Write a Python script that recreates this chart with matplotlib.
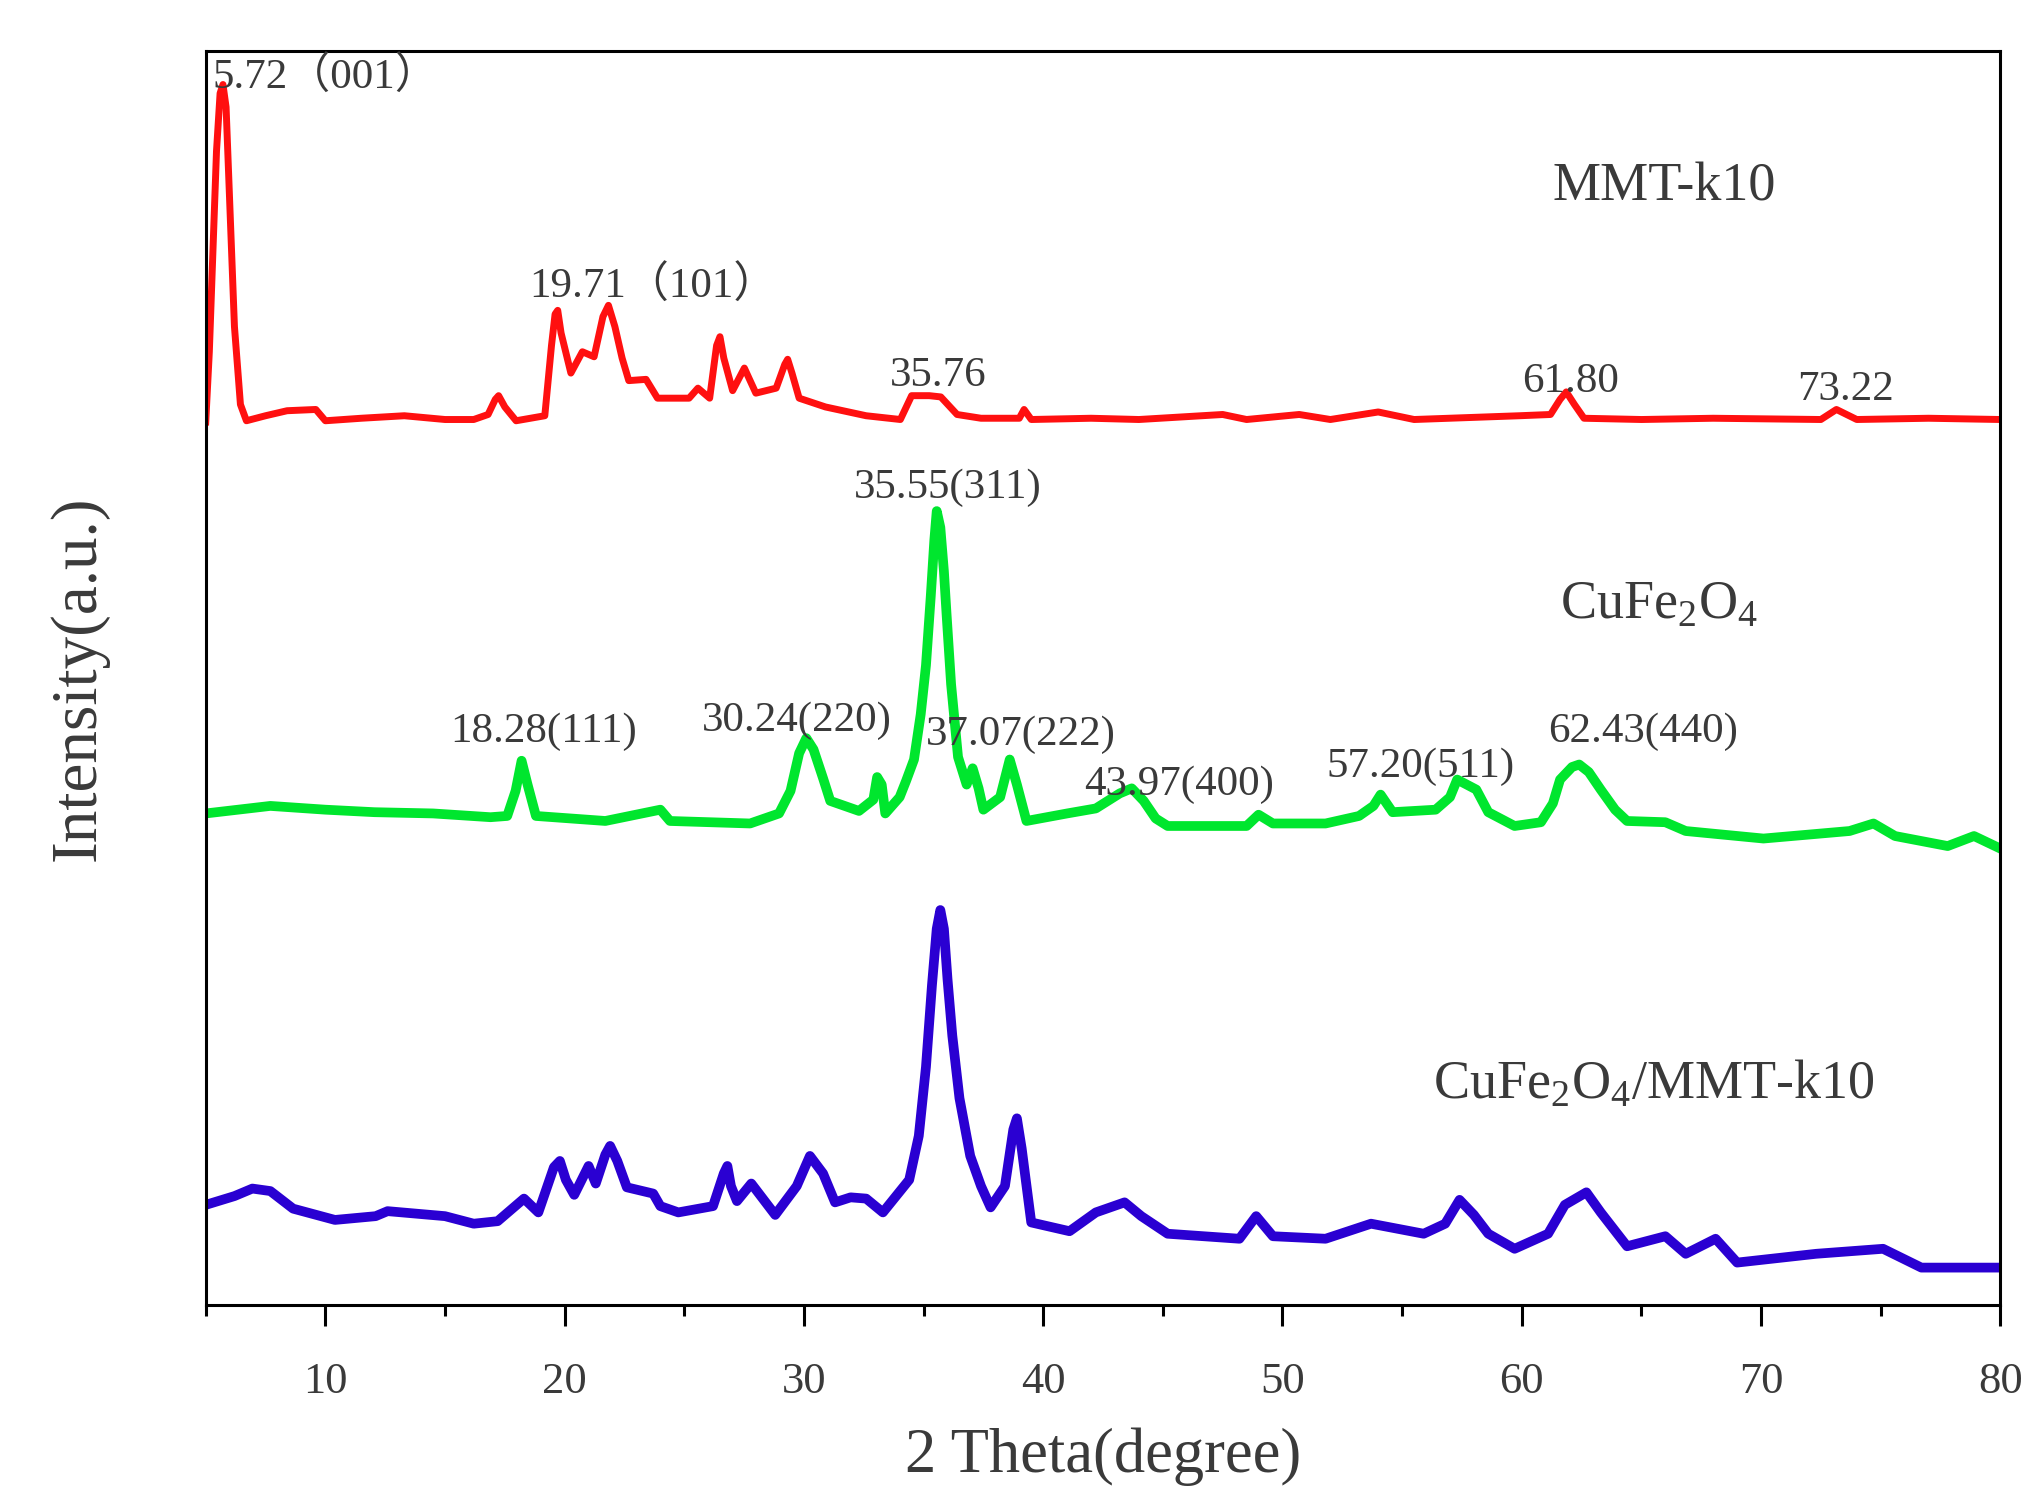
import matplotlib
matplotlib.use("Agg")
from matplotlib import pyplot as plt
from matplotlib.ticker import MultipleLocator

# 2 theta / intensity (intensity in arbitrary, stacked units)
mmt_theta = [5.0, 5.15, 5.3, 5.45, 5.6, 5.72, 5.85, 6.0, 6.2, 6.45, 6.7, 7.5, 8.4, 9.6, 10.0,
             11.5, 13.3, 15.0, 16.2, 16.8, 17.1, 17.24, 17.5, 17.97, 19.17, 19.45, 19.6, 19.71,
             19.85, 20.26, 20.74, 21.23, 21.6, 21.83, 22.1, 22.4, 22.68, 23.4, 23.88, 25.2,
             25.57, 26.06, 26.35, 26.49, 26.65, 27.02, 27.51, 27.99, 28.84, 29.2, 29.32, 29.5,
             29.8, 30.9, 32.6, 34.03, 34.5, 35.24, 35.72, 36.4, 37.4, 39.0, 39.2, 39.5, 42.0,
             44.0, 47.5, 48.5, 50.7, 52.0, 54.0, 55.5, 59.9, 61.2, 61.6, 61.86, 62.2, 62.6,
             65.0, 68.0, 72.5, 73.15, 74.0, 77.0, 80.0]
mmt_int = [70.4, 76.0, 84.0, 92.0, 96.6, 97.3, 95.5, 88.0, 78.0, 71.8, 70.5, 70.9, 71.3, 71.4,
           70.5, 70.7, 70.9, 70.6, 70.6, 71.0, 72.2, 72.5, 71.6, 70.5, 70.9, 76.5, 79.0, 79.3,
           77.5, 74.3, 76.0, 75.6, 78.8, 79.7, 78.0, 75.5, 73.7, 73.8, 72.3, 72.3, 73.1, 72.3,
           76.5, 77.2, 75.5, 72.9, 74.7, 72.7, 73.1, 75.0, 75.4, 74.3, 72.3, 71.6, 70.9, 70.6,
           72.5, 72.5, 72.4, 71.0, 70.7, 70.7, 71.4, 70.6, 70.7, 70.6, 71.0, 70.6, 71.0, 70.6,
           71.2, 70.6, 70.9, 71.0, 72.2, 72.8, 71.8, 70.7, 70.6, 70.7, 70.6, 71.4, 70.6, 70.7,
           70.6]

cufe_theta = [5.0, 7.7, 10.0, 12.05, 14.5, 16.9, 17.6, 17.95, 18.2, 18.45, 18.8, 21.7, 24.0,
              24.4, 27.75, 28.96, 29.44, 29.8, 30.1, 30.4, 30.8, 31.1, 32.3, 32.9, 33.06, 33.25,
              33.4, 34.0, 34.27, 34.6, 34.88, 35.1, 35.3, 35.45, 35.55, 35.7, 35.85, 35.96,
              36.15, 36.44, 36.8, 37.05, 37.3, 37.5, 38.2, 38.6, 38.9, 39.3, 41.0, 42.2, 43.2,
              43.7, 44.2, 44.7, 45.2, 48.5, 49.0, 49.6, 51.8, 53.2, 53.8, 54.1, 54.6, 56.4,
              57.0, 57.3, 58.1, 58.6, 59.7, 60.8, 61.3, 61.6, 62.1, 62.4, 62.8, 63.3, 63.9,
              64.4, 66.0, 66.85, 70.1, 73.7, 74.7, 75.6, 77.8, 78.9, 80.0]
cufe_int = [39.2, 39.8, 39.5, 39.3, 39.2, 38.9, 39.0, 41.0, 43.4, 41.5, 39.0, 38.6, 39.5, 38.6,
            38.4, 39.2, 41.0, 44.0, 45.2, 44.3, 42.0, 40.2, 39.4, 40.3, 42.1, 41.5, 39.2, 40.5,
            41.8, 43.5, 47.1, 51.0, 56.5, 61.0, 63.3, 62.0, 58.5, 55.1, 49.5, 43.7, 41.5, 42.8,
            41.2, 39.5, 40.5, 43.5, 41.5, 38.6, 39.2, 39.6, 40.8, 41.2, 40.2, 38.8, 38.2, 38.2,
            39.1, 38.4, 38.4, 39.0, 39.8, 40.7, 39.3, 39.5, 40.5, 41.9, 41.1, 39.3, 38.2, 38.5,
            40.0, 41.9, 42.9, 43.1, 42.5, 41.1, 39.5, 38.6, 38.5, 37.8, 37.2, 37.8, 38.4, 37.4,
            36.6, 37.4, 36.4]

comp_theta = [5.0, 6.2, 6.95, 7.7, 8.65, 10.4, 12.1, 12.6, 15.0, 16.2, 17.2, 18.3, 18.9, 19.55,
              19.8, 20.05, 20.4, 21.0, 21.3, 21.7, 21.9, 22.2, 22.6, 23.7, 24.0, 24.75, 26.2,
              26.65, 26.8, 26.95, 27.2, 27.8, 28.8, 29.7, 30.25, 30.8, 31.3, 31.95, 32.6, 33.3,
              34.4, 34.8, 35.1, 35.35, 35.55, 35.7, 35.85, 36.0, 36.2, 36.5, 36.95, 37.4, 37.8,
              38.4, 38.75, 38.9, 39.1, 39.5, 41.1, 42.2, 43.4, 44.1, 45.2, 48.2, 48.9, 49.6,
              51.8, 53.7, 55.9, 56.8, 57.4, 58.0, 58.6, 59.7, 61.1, 61.8, 62.7, 63.3, 64.4,
              66.0, 66.85, 68.1, 69.0, 72.3, 75.1, 76.7, 80.0]
comp_int = [8.0, 8.7, 9.3, 9.1, 7.7, 6.8, 7.1, 7.5, 7.1, 6.5, 6.7, 8.5, 7.4, 11.0, 11.5, 10.0,
            8.8, 11.1, 9.7, 12.0, 12.7, 11.5, 9.4, 8.9, 7.9, 7.4, 7.9, 10.5, 11.1, 9.5, 8.3,
            9.7, 7.2, 9.5, 11.9, 10.5, 8.2, 8.6, 8.5, 7.4, 10.0, 13.5, 19.0, 25.5, 30.0, 31.5,
            30.0, 26.0, 21.5, 16.5, 11.9, 9.5, 7.8, 9.5, 14.0, 14.9, 12.5, 6.6, 5.9, 7.4, 8.2,
            7.1, 5.7, 5.3, 7.1, 5.5, 5.3, 6.5, 5.7, 6.5, 8.4, 7.2, 5.7, 4.5, 5.7, 8.0, 9.0, 7.4,
            4.7, 5.5, 4.1, 5.3, 3.4, 4.1, 4.5, 3.0, 3.0]

# peak labels: text, 2theta of left edge, height
peak_text = ["5.72（001）", "19.71（101）", "35.76", "61.80", "73.22",
             "35.55(311)", "18.28(111)", "30.24(220)", "37.07(222)", "43.97(400)",
             "57.20(511)", "62.43(440)"]
peak_x = [5.3, 18.5, 33.6, 60.0, 71.5, 32.1, 15.2, 25.75, 35.1, 41.7, 51.85, 61.1]
peak_y = [97.9, 81.2, 74.1, 73.6, 73.0, 65.2, 45.7, 46.6, 45.5, 41.5, 42.9, 45.7]

names = ["MMT-k10", r"CuFe$_2$O$_4$", r"CuFe$_2$O$_4$/MMT-k10"]
name_x = [61.3, 61.6, 56.3]
name_y = [89.1, 55.8, 17.6]

plt.rcParams['font.family'] = ['Liberation Serif', 'Noto Sans CJK SC']
plt.rcParams['mathtext.fontset'] = 'custom'
plt.rcParams['mathtext.rm'] = 'Liberation Serif'

fig = plt.figure(figsize=(20.37, 14.90), dpi=100)
ax = fig.add_axes([0.101, 0.124, 0.881, 0.842])

ax.plot(mmt_theta, mmt_int, color='#ff1010', lw=5, solid_joinstyle='round')
ax.plot(cufe_theta, cufe_int, color='#00e62e', lw=7, solid_joinstyle='round')
ax.plot(comp_theta, comp_int, color='#2a00d2', lw=7, solid_joinstyle='round')

txt_col = '#3a3a3a'
for t, x, y in zip(peak_text, peak_x, peak_y):
    ax.text(x, y, t, fontsize=31, color=txt_col, ha='left', va='center')
for t, x, y in zip(names, name_x, name_y):
    ax.text(x, y, t, fontsize=39, color=txt_col, ha='left', va='center')

ax.set_xlim(5, 80)
ax.set_ylim(0, 100)
ax.xaxis.set_major_locator(MultipleLocator(10))
ax.xaxis.set_minor_locator(MultipleLocator(5))
ax.set_yticks([])
ax.tick_params(axis='x', which='major', direction='out', length=15, width=2.2,
               labelsize=32, labelcolor=txt_col, pad=26)
ax.tick_params(axis='x', which='minor', direction='out', length=8, width=2.2)
for s in ax.spines.values():
    s.set_linewidth(2.2)

ax.set_xlabel('2 Theta(degree)', fontsize=45, color=txt_col, labelpad=18)
ax.set_ylabel('Intensity(a.u.)', fontsize=47, color=txt_col, labelpad=70)

plt.savefig('out.png', dpi=100)
